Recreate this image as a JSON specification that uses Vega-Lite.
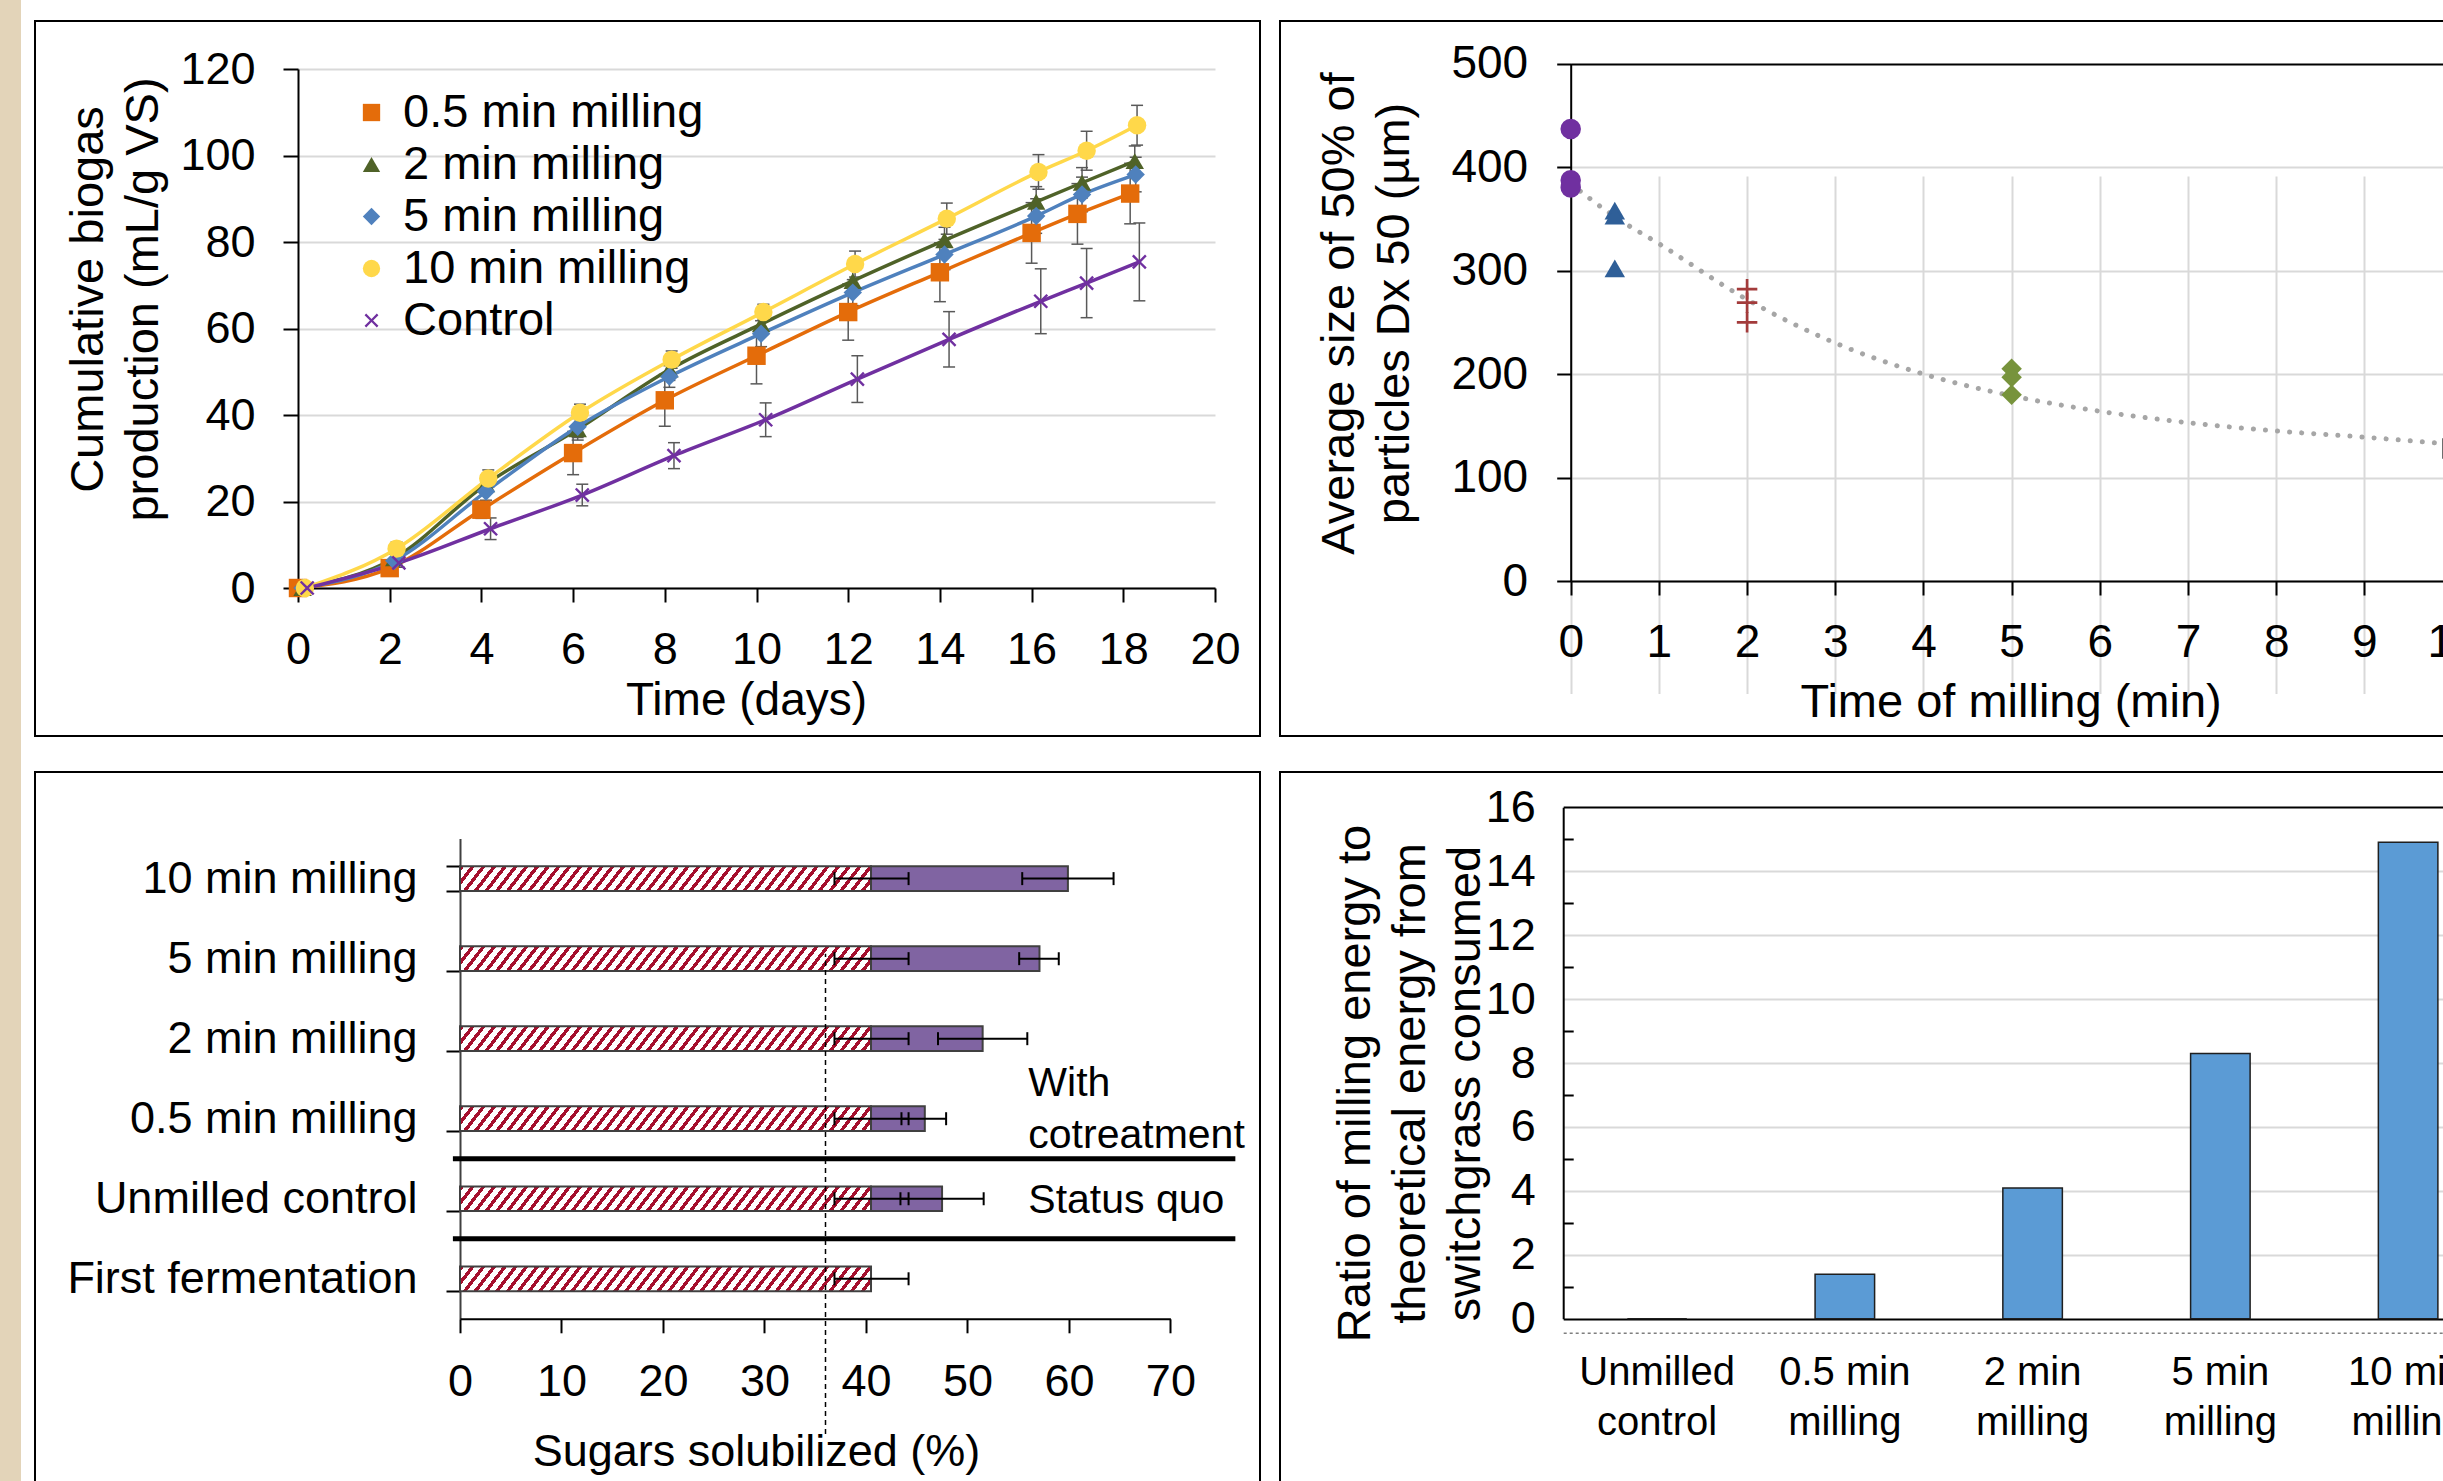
{
  "$schema": "https://vega.github.io/schema/vega-lite/v6.json",
  "padding": 0,
  "background": "white",
  "spacing": 13,
  "center": true,
  "config": {
    "font": "Liberation Sans",
    "view": {"stroke": "black", "strokeWidth": 2},
    "axis": {"labelColor": "black", "titleColor": "black", "titleFontWeight": "normal", "domainColor": "black", "domainWidth": 2, "tickColor": "black", "tickWidth": 2, "gridColor": "#D9D9D9", "gridWidth": 2, "labelLimit": 2000, "titleLimit": 3000, "labelFlush": false, "labelOverlap": false},
    "legend": {"labelLimit": 2000}
  },
  "datasets": {
    "biogas": [
      {"s": "0.5 min milling", "d": 0, "m": 0, "lo": 0, "hi": 0},
      {"s": "0.5 min milling", "d": 2, "m": 4.6, "lo": 3.1, "hi": 6.1},
      {"s": "0.5 min milling", "d": 4, "m": 18.1, "lo": 16.1, "hi": 20.1},
      {"s": "0.5 min milling", "d": 6, "m": 31.2, "lo": 26.2, "hi": 36.2},
      {"s": "0.5 min milling", "d": 8, "m": 43.4, "lo": 37.4, "hi": 49.4},
      {"s": "0.5 min milling", "d": 10, "m": 53.7, "lo": 47.2, "hi": 60.2},
      {"s": "0.5 min milling", "d": 12, "m": 63.8, "lo": 57.3, "hi": 70.3},
      {"s": "0.5 min milling", "d": 14, "m": 73.0, "lo": 66.2, "hi": 79.8},
      {"s": "0.5 min milling", "d": 16, "m": 82.1, "lo": 75.1, "hi": 89.1},
      {"s": "0.5 min milling", "d": 17, "m": 86.5, "lo": 79.5, "hi": 93.5},
      {"s": "0.5 min milling", "d": 18.15, "m": 91.2, "lo": 84.2, "hi": 98.2},
      {"s": "2 min milling", "d": 0.1, "m": 0, "lo": 0, "hi": 0},
      {"s": "2 min milling", "d": 2.1, "m": 6.9, "lo": 5.4, "hi": 8.4},
      {"s": "2 min milling", "d": 4.1, "m": 24.0, "lo": 22.0, "hi": 26.0},
      {"s": "2 min milling", "d": 6.1, "m": 36.7, "lo": 34.2, "hi": 39.2},
      {"s": "2 min milling", "d": 8.1, "m": 50.5, "lo": 48.0, "hi": 53.0},
      {"s": "2 min milling", "d": 10.1, "m": 61.0, "lo": 58.5, "hi": 63.5},
      {"s": "2 min milling", "d": 12.1, "m": 71.0, "lo": 68.0, "hi": 74.0},
      {"s": "2 min milling", "d": 14.1, "m": 80.4, "lo": 77.4, "hi": 83.4},
      {"s": "2 min milling", "d": 16.1, "m": 89.3, "lo": 85.8, "hi": 92.8},
      {"s": "2 min milling", "d": 17.1, "m": 93.7, "lo": 90.2, "hi": 97.2},
      {"s": "2 min milling", "d": 18.25, "m": 98.7, "lo": 95.2, "hi": 102.2},
      {"s": "5 min milling", "d": 0.1, "m": 0, "lo": 0, "hi": 0},
      {"s": "5 min milling", "d": 2.1, "m": 6.3, "lo": 4.8, "hi": 7.8},
      {"s": "5 min milling", "d": 4.1, "m": 22.3, "lo": 20.3, "hi": 24.3},
      {"s": "5 min milling", "d": 6.1, "m": 37.3, "lo": 34.8, "hi": 39.8},
      {"s": "5 min milling", "d": 8.1, "m": 48.9, "lo": 46.4, "hi": 51.4},
      {"s": "5 min milling", "d": 10.1, "m": 58.8, "lo": 55.8, "hi": 61.8},
      {"s": "5 min milling", "d": 12.1, "m": 68.3, "lo": 65.3, "hi": 71.3},
      {"s": "5 min milling", "d": 14.1, "m": 77.1, "lo": 73.6, "hi": 80.6},
      {"s": "5 min milling", "d": 16.1, "m": 86.0, "lo": 82.0, "hi": 90.0},
      {"s": "5 min milling", "d": 17.1, "m": 91.0, "lo": 87.0, "hi": 95.0},
      {"s": "5 min milling", "d": 18.27, "m": 95.6, "lo": 91.6, "hi": 99.6},
      {"s": "10 min milling", "d": 0.15, "m": 0, "lo": 0, "hi": 0},
      {"s": "10 min milling", "d": 2.15, "m": 9.1, "lo": 7.6, "hi": 10.6},
      {"s": "10 min milling", "d": 4.15, "m": 25.3, "lo": 23.3, "hi": 27.3},
      {"s": "10 min milling", "d": 6.15, "m": 40.5, "lo": 38.5, "hi": 42.5},
      {"s": "10 min milling", "d": 8.15, "m": 52.8, "lo": 50.8, "hi": 54.8},
      {"s": "10 min milling", "d": 10.15, "m": 63.8, "lo": 62.0, "hi": 65.6},
      {"s": "10 min milling", "d": 12.15, "m": 74.9, "lo": 71.9, "hi": 77.9},
      {"s": "10 min milling", "d": 14.15, "m": 85.4, "lo": 81.8, "hi": 89.0},
      {"s": "10 min milling", "d": 16.15, "m": 96.2, "lo": 92.2, "hi": 100.2},
      {"s": "10 min milling", "d": 17.2, "m": 101.1, "lo": 96.6, "hi": 105.6},
      {"s": "10 min milling", "d": 18.3, "m": 107.0, "lo": 102.4, "hi": 111.6},
      {"s": "Control", "d": 0.2, "m": 0, "lo": 0, "hi": 0},
      {"s": "Control", "d": 2.2, "m": 5.8, "lo": 4.8, "hi": 6.8},
      {"s": "Control", "d": 4.2, "m": 13.7, "lo": 11.2, "hi": 16.2},
      {"s": "Control", "d": 6.2, "m": 21.5, "lo": 19.0, "hi": 24.0},
      {"s": "Control", "d": 8.2, "m": 30.6, "lo": 27.6, "hi": 33.6},
      {"s": "Control", "d": 10.2, "m": 38.9, "lo": 35.0, "hi": 42.8},
      {"s": "Control", "d": 12.2, "m": 48.3, "lo": 42.9, "hi": 53.7},
      {"s": "Control", "d": 14.2, "m": 57.5, "lo": 51.1, "hi": 63.9},
      {"s": "Control", "d": 16.2, "m": 66.3, "lo": 58.8, "hi": 73.8},
      {"s": "Control", "d": 17.2, "m": 70.5, "lo": 62.5, "hi": 78.5},
      {"s": "Control", "d": 18.35, "m": 75.4, "lo": 66.4, "hi": 84.4}
    ],
    "dx50": [
      {"g": "0 min", "t": 0, "d": 436.8},
      {"g": "0 min", "t": 0, "d": 387.2},
      {"g": "0 min", "t": 0, "d": 380.3},
      {"g": "0.5 min", "t": 0.5, "d": 358},
      {"g": "0.5 min", "t": 0.5, "d": 353},
      {"g": "0.5 min", "t": 0.5, "d": 302},
      {"g": "2 min", "t": 2, "d": 282},
      {"g": "2 min", "t": 2, "d": 269},
      {"g": "2 min", "t": 2, "d": 250},
      {"g": "5 min", "t": 5, "d": 205},
      {"g": "5 min", "t": 5, "d": 197},
      {"g": "5 min", "t": 5, "d": 180},
      {"g": "10 min", "t": 10, "d": 128}
    ],
    "trend": [
      {"t": 0, "v": 384}, {"t": 0.5, "v": 352}, {"t": 1, "v": 326}, {"t": 2, "v": 272},
      {"t": 3, "v": 230}, {"t": 4, "v": 200}, {"t": 5, "v": 179}, {"t": 6, "v": 164},
      {"t": 7, "v": 153}, {"t": 8, "v": 145}, {"t": 9, "v": 139}, {"t": 10, "v": 132}
    ],
    "sugar": [
      {"c": "10 min milling", "f": 40.5, "flo": 36.9, "fhi": 44.2, "tot": 59.9, "tlo": 55.4, "thi": 64.4},
      {"c": "5 min milling", "f": 40.5, "flo": 36.9, "fhi": 44.2, "tot": 57.1, "tlo": 55.1, "thi": 59.0},
      {"c": "2 min milling", "f": 40.5, "flo": 36.9, "fhi": 44.2, "tot": 51.5, "tlo": 47.1, "thi": 55.9},
      {"c": "0.5 min milling", "f": 40.5, "flo": 36.9, "fhi": 44.2, "tot": 45.8, "tlo": 43.5, "thi": 47.9},
      {"c": "Unmilled control", "f": 40.5, "flo": 36.9, "fhi": 44.2, "tot": 47.5, "tlo": 43.4, "thi": 51.6},
      {"c": "First fermentation", "f": 40.5, "flo": 36.9, "fhi": 44.2, "tot": null, "tlo": null, "thi": null}
    ],
    "seps": [
      {"c": "Unmilled control", "a": -0.7, "b": 76.4},
      {"c": "First fermentation", "a": -0.7, "b": 76.4}
    ],
    "notes": [
      {"c": "0.5 min milling", "x": 56, "l": "With\ncotreatment"},
      {"c": "Unmilled control", "x": 56, "l": "Status quo"}
    ],
    "ratio": [
      {"c": "Unmilled control", "r": 0},
      {"c": "0.5 min milling", "r": 1.39},
      {"c": "2 min milling", "r": 4.09},
      {"c": "5 min milling", "r": 8.3},
      {"c": "10 min milling", "r": 14.91}
    ]
  },
  "hconcat": [
    {
      "width": 21, "height": 1522,
      "data": {"values": []},
      "mark": "point",
      "view": {"fill": "#E3D4B9", "stroke": null}
    },
    {
      "spacing": 12,
      "vconcat": [
        {
          "spacing": 18,
          "resolve": {"scale": {"color": "independent", "shape": "independent"}},
          "hconcat": [
            {
              "width": 1225, "height": 715,
              "data": {"name": "biogas"},
              "encoding": {
                "x": {"field": "d", "type": "quantitative",
                  "scale": {"domain": [0, 20], "range": [263, 1180], "nice": false, "zero": false},
                  "axis": {"values": [0, 2, 4, 6, 8, 10, 12, 14, 16, 18, 20], "title": "Time (days)", "offset": -148, "grid": false, "tickSize": 14, "labelPadding": 25, "labelFontSize": 45, "titleFontSize": 46, "titleX": 711, "titleY": 126, "titleAlign": "center", "titleBaseline": "alphabetic"}}
              },
              "layer": [
                {"transform": [{"filter": "datum.m < 0"}],
                  "mark": {"type": "point", "filled": true, "opacity": 1, "size": 300},
                  "encoding": {
                    "y": {"field": "m", "type": "quantitative",
                      "scale": {"domain": [0, 120], "range": [567, 48], "nice": false},
                      "axis": {"values": [0, 20, 40, 60, 80, 100, 120], "title": ["Cumulative biogas", "production (mL/g VS)"], "offset": -263, "grid": true, "tickSize": 15, "labelPadding": 28, "labelFontSize": 45, "titleFontSize": 47, "titleLineHeight": 55, "titleX": -186, "titleY": 278, "titleAngle": -90, "titleAlign": "center", "titleBaseline": "bottom"}},
                    "color": {"field": "s", "type": "nominal",
                      "scale": {"domain": ["0.5 min milling", "2 min milling", "5 min milling", "10 min milling", "Control"], "range": ["#E46C0A", "#4F6228", "#4F81BD", "#FFD84A", "#7030A0"]},
                      "legend": {"title": null, "orient": "none", "legendX": 313, "legendY": 68, "padding": 0, "direction": "vertical", "labelFontSize": 47, "labelColor": "black", "symbolSize": 300, "rowPadding": 4, "labelOffset": 8, "symbolStrokeWidth": 0,
                        "encode": {"symbols": {"shape": {"condition": [
                          {"test": "datum.value === '0.5 min milling'", "value": "M-3.06,-0.17H3.06V0.17H-3.06Z M-1,-1H1V1H-1Z"},
                          {"test": "datum.value === '2 min milling'", "value": "M-3.06,-0.17H3.06V0.17H-3.06Z M0,-1.15L1.15,0.85H-1.15Z"},
                          {"test": "datum.value === '5 min milling'", "value": "M-3.06,-0.17H3.06V0.17H-3.06Z M0,-1.15L1.15,0L0,1.15L-1.15,0Z"},
                          {"test": "datum.value === '10 min milling'", "value": "M-3.06,-0.17H3.06V0.17H-3.06Z M-1.05,0A1.05,1.05 0 1,1 1.05,0A1.05,1.05 0 1,1 -1.05,0Z"}
                        ], "value": "M-3.06,-0.17H3.06V0.17H-3.06Z M0.615,-0.799L0.799,-0.615L0.184,0L0.799,0.615L0.615,0.799L0,0.184L-0.615,0.799L-0.799,0.615L-0.184,0L-0.799,-0.615L-0.615,-0.799L0,-0.184Z"}}}}},
                    "shape": {"field": "s", "type": "nominal",
                      "scale": {"domain": ["0.5 min milling", "2 min milling", "5 min milling", "10 min milling", "Control"], "range": ["square", "triangle-up", "diamond", "circle", "M0.615,-0.799L0.799,-0.615L0.184,0L0.799,0.615L0.615,0.799L0,0.184L-0.615,0.799L-0.799,0.615L-0.184,0L-0.799,-0.615L-0.615,-0.799L0,-0.184Z"]},
                      "legend": null}
                  }},
                {"mark": {"type": "rule", "color": "#595959", "strokeWidth": 1.5},
                  "encoding": {
                    "y": {"field": "lo", "type": "quantitative"},
                    "y2": {"field": "hi"}
                  }},
                {"mark": {"type": "tick", "orient": "horizontal", "color": "#595959", "size": 12, "thickness": 1.5, "opacity": 1},
                  "encoding": {"y": {"field": "lo", "type": "quantitative"}}},
                {"mark": {"type": "tick", "orient": "horizontal", "color": "#595959", "size": 12, "thickness": 1.5, "opacity": 1},
                  "encoding": {"y": {"field": "hi", "type": "quantitative"}}},
                {"mark": {"type": "line", "interpolate": "monotone", "strokeWidth": 3.5},
                  "encoding": {
                    "y": {"field": "m", "type": "quantitative"},
                    "color": {"field": "s", "type": "nominal"}
                  }},
                {"mark": {"type": "point", "filled": true, "opacity": 1, "size": 340},
                  "encoding": {
                    "y": {"field": "m", "type": "quantitative"},
                    "color": {"field": "s", "type": "nominal"},
                    "shape": {"field": "s", "type": "nominal", "legend": null}
                  }}
              ]
            },
            {
              "width": 1200, "height": 715,
              "layer": [
                {"data": {"name": "trend"},
                  "mark": {"type": "line", "interpolate": "monotone", "color": "#A6A6A6", "strokeWidth": 5, "strokeDash": [0.1, 12], "strokeCap": "round"},
                  "encoding": {
                    "x": {"field": "t", "type": "quantitative",
                      "scale": {"domain": [0, 10], "range": [290.7, 1172.6], "nice": false, "zero": false},
                      "axis": {"values": [0, 1, 2, 3, 4, 5, 6, 7, 8, 9, 10], "format": "d", "title": "Time of milling (min)", "offset": -155, "grid": true, "tickSize": 14, "labelPadding": 25, "labelFontSize": 46, "titleFontSize": 47, "titleX": 730.6, "titleY": 135.7, "titleAlign": "center", "titleBaseline": "alphabetic"}},
                    "y": {"field": "v", "type": "quantitative",
                      "scale": {"domain": [0, 500], "range": [560, 42.6], "nice": false},
                      "axis": {"values": [0, 100, 200, 300, 400, 500], "title": ["Average size of 50% of", "particles Dx 50 (µm)"], "offset": -290.7, "grid": true,
                        "gridColor": {"condition": {"test": "datum.value == 500", "value": "black"}, "value": "#D9D9D9"},
                        "tickSize": 14, "labelPadding": 29, "labelFontSize": 46, "titleFontSize": 47, "titleLineHeight": 55, "titleX": -207, "titleY": 292, "titleAngle": -90, "titleAlign": "center", "titleBaseline": "bottom"}}
                  }},
                {"data": {"name": "dx50"},
                  "mark": {"type": "point", "filled": true, "opacity": 1, "size": 420},
                  "encoding": {
                    "x": {"field": "t", "type": "quantitative"},
                    "y": {"field": "d", "type": "quantitative"},
                    "color": {"field": "g", "type": "nominal",
                      "scale": {"domain": ["0 min", "0.5 min", "2 min", "5 min", "10 min"], "range": ["#7030A0", "#2F5F98", "#A33B3B", "#77933C", "#1F1F1F"]},
                      "legend": null},
                    "shape": {"field": "g", "type": "nominal",
                      "scale": {"domain": ["0 min", "0.5 min", "2 min", "5 min", "10 min"], "range": ["circle", "triangle-up", "M-1,-0.13H-0.13V-1H0.13V-0.13H1V0.13H0.13V1H-0.13V0.13H-1Z", "diamond", "square"]},
                      "legend": null}
                  }}
              ]
            }
          ]
        },
        {
          "spacing": 18,
          "hconcat": [
            {
              "width": 1225, "height": 728,
              "layer": [
                {"data": {"name": "sugar"},
                  "mark": {"type": "bar", "stroke": "#404040", "strokeWidth": 2,
                    "fill": {"gradient": "linear", "x1": 0, "y1": 0, "x2": 1.0441, "y2": 0.0483, "stops": [
                      {"offset": 0, "color": "#A50F2D"}, {"offset": 0.01, "color": "#A50F2D"}, {"offset": 0.01, "color": "#ffffff"}, {"offset": 0.025, "color": "#ffffff"},
                      {"offset": 0.025, "color": "#A50F2D"}, {"offset": 0.035, "color": "#A50F2D"}, {"offset": 0.035, "color": "#ffffff"}, {"offset": 0.05, "color": "#ffffff"},
                      {"offset": 0.05, "color": "#A50F2D"}, {"offset": 0.06, "color": "#A50F2D"}, {"offset": 0.06, "color": "#ffffff"}, {"offset": 0.075, "color": "#ffffff"},
                      {"offset": 0.075, "color": "#A50F2D"}, {"offset": 0.085, "color": "#A50F2D"}, {"offset": 0.085, "color": "#ffffff"}, {"offset": 0.1, "color": "#ffffff"},
                      {"offset": 0.1, "color": "#A50F2D"}, {"offset": 0.11, "color": "#A50F2D"}, {"offset": 0.11, "color": "#ffffff"}, {"offset": 0.125, "color": "#ffffff"},
                      {"offset": 0.125, "color": "#A50F2D"}, {"offset": 0.135, "color": "#A50F2D"}, {"offset": 0.135, "color": "#ffffff"}, {"offset": 0.15, "color": "#ffffff"},
                      {"offset": 0.15, "color": "#A50F2D"}, {"offset": 0.16, "color": "#A50F2D"}, {"offset": 0.16, "color": "#ffffff"}, {"offset": 0.175, "color": "#ffffff"},
                      {"offset": 0.175, "color": "#A50F2D"}, {"offset": 0.185, "color": "#A50F2D"}, {"offset": 0.185, "color": "#ffffff"}, {"offset": 0.2, "color": "#ffffff"},
                      {"offset": 0.2, "color": "#A50F2D"}, {"offset": 0.21, "color": "#A50F2D"}, {"offset": 0.21, "color": "#ffffff"}, {"offset": 0.225, "color": "#ffffff"},
                      {"offset": 0.225, "color": "#A50F2D"}, {"offset": 0.235, "color": "#A50F2D"}, {"offset": 0.235, "color": "#ffffff"}, {"offset": 0.25, "color": "#ffffff"},
                      {"offset": 0.25, "color": "#A50F2D"}, {"offset": 0.26, "color": "#A50F2D"}, {"offset": 0.26, "color": "#ffffff"}, {"offset": 0.275, "color": "#ffffff"},
                      {"offset": 0.275, "color": "#A50F2D"}, {"offset": 0.285, "color": "#A50F2D"}, {"offset": 0.285, "color": "#ffffff"}, {"offset": 0.3, "color": "#ffffff"},
                      {"offset": 0.3, "color": "#A50F2D"}, {"offset": 0.31, "color": "#A50F2D"}, {"offset": 0.31, "color": "#ffffff"}, {"offset": 0.325, "color": "#ffffff"},
                      {"offset": 0.325, "color": "#A50F2D"}, {"offset": 0.335, "color": "#A50F2D"}, {"offset": 0.335, "color": "#ffffff"}, {"offset": 0.35, "color": "#ffffff"},
                      {"offset": 0.35, "color": "#A50F2D"}, {"offset": 0.36, "color": "#A50F2D"}, {"offset": 0.36, "color": "#ffffff"}, {"offset": 0.375, "color": "#ffffff"},
                      {"offset": 0.375, "color": "#A50F2D"}, {"offset": 0.385, "color": "#A50F2D"}, {"offset": 0.385, "color": "#ffffff"}, {"offset": 0.4, "color": "#ffffff"},
                      {"offset": 0.4, "color": "#A50F2D"}, {"offset": 0.41, "color": "#A50F2D"}, {"offset": 0.41, "color": "#ffffff"}, {"offset": 0.425, "color": "#ffffff"},
                      {"offset": 0.425, "color": "#A50F2D"}, {"offset": 0.435, "color": "#A50F2D"}, {"offset": 0.435, "color": "#ffffff"}, {"offset": 0.45, "color": "#ffffff"},
                      {"offset": 0.45, "color": "#A50F2D"}, {"offset": 0.46, "color": "#A50F2D"}, {"offset": 0.46, "color": "#ffffff"}, {"offset": 0.475, "color": "#ffffff"},
                      {"offset": 0.475, "color": "#A50F2D"}, {"offset": 0.485, "color": "#A50F2D"}, {"offset": 0.485, "color": "#ffffff"}, {"offset": 0.5, "color": "#ffffff"},
                      {"offset": 0.5, "color": "#A50F2D"}, {"offset": 0.51, "color": "#A50F2D"}, {"offset": 0.51, "color": "#ffffff"}, {"offset": 0.525, "color": "#ffffff"},
                      {"offset": 0.525, "color": "#A50F2D"}, {"offset": 0.535, "color": "#A50F2D"}, {"offset": 0.535, "color": "#ffffff"}, {"offset": 0.55, "color": "#ffffff"},
                      {"offset": 0.55, "color": "#A50F2D"}, {"offset": 0.56, "color": "#A50F2D"}, {"offset": 0.56, "color": "#ffffff"}, {"offset": 0.575, "color": "#ffffff"},
                      {"offset": 0.575, "color": "#A50F2D"}, {"offset": 0.585, "color": "#A50F2D"}, {"offset": 0.585, "color": "#ffffff"}, {"offset": 0.6, "color": "#ffffff"},
                      {"offset": 0.6, "color": "#A50F2D"}, {"offset": 0.61, "color": "#A50F2D"}, {"offset": 0.61, "color": "#ffffff"}, {"offset": 0.625, "color": "#ffffff"},
                      {"offset": 0.625, "color": "#A50F2D"}, {"offset": 0.635, "color": "#A50F2D"}, {"offset": 0.635, "color": "#ffffff"}, {"offset": 0.65, "color": "#ffffff"},
                      {"offset": 0.65, "color": "#A50F2D"}, {"offset": 0.66, "color": "#A50F2D"}, {"offset": 0.66, "color": "#ffffff"}, {"offset": 0.675, "color": "#ffffff"},
                      {"offset": 0.675, "color": "#A50F2D"}, {"offset": 0.685, "color": "#A50F2D"}, {"offset": 0.685, "color": "#ffffff"}, {"offset": 0.7, "color": "#ffffff"},
                      {"offset": 0.7, "color": "#A50F2D"}, {"offset": 0.71, "color": "#A50F2D"}, {"offset": 0.71, "color": "#ffffff"}, {"offset": 0.725, "color": "#ffffff"},
                      {"offset": 0.725, "color": "#A50F2D"}, {"offset": 0.735, "color": "#A50F2D"}, {"offset": 0.735, "color": "#ffffff"}, {"offset": 0.75, "color": "#ffffff"},
                      {"offset": 0.75, "color": "#A50F2D"}, {"offset": 0.76, "color": "#A50F2D"}, {"offset": 0.76, "color": "#ffffff"}, {"offset": 0.775, "color": "#ffffff"},
                      {"offset": 0.775, "color": "#A50F2D"}, {"offset": 0.785, "color": "#A50F2D"}, {"offset": 0.785, "color": "#ffffff"}, {"offset": 0.8, "color": "#ffffff"},
                      {"offset": 0.8, "color": "#A50F2D"}, {"offset": 0.81, "color": "#A50F2D"}, {"offset": 0.81, "color": "#ffffff"}, {"offset": 0.825, "color": "#ffffff"},
                      {"offset": 0.825, "color": "#A50F2D"}, {"offset": 0.835, "color": "#A50F2D"}, {"offset": 0.835, "color": "#ffffff"}, {"offset": 0.85, "color": "#ffffff"},
                      {"offset": 0.85, "color": "#A50F2D"}, {"offset": 0.86, "color": "#A50F2D"}, {"offset": 0.86, "color": "#ffffff"}, {"offset": 0.875, "color": "#ffffff"},
                      {"offset": 0.875, "color": "#A50F2D"}, {"offset": 0.885, "color": "#A50F2D"}, {"offset": 0.885, "color": "#ffffff"}, {"offset": 0.9, "color": "#ffffff"},
                      {"offset": 0.9, "color": "#A50F2D"}, {"offset": 0.91, "color": "#A50F2D"}, {"offset": 0.91, "color": "#ffffff"}, {"offset": 0.925, "color": "#ffffff"},
                      {"offset": 0.925, "color": "#A50F2D"}, {"offset": 0.935, "color": "#A50F2D"}, {"offset": 0.935, "color": "#ffffff"}, {"offset": 0.95, "color": "#ffffff"},
                      {"offset": 0.95, "color": "#A50F2D"}, {"offset": 0.96, "color": "#A50F2D"}, {"offset": 0.96, "color": "#ffffff"}, {"offset": 0.975, "color": "#ffffff"},
                      {"offset": 0.975, "color": "#A50F2D"}, {"offset": 0.985, "color": "#A50F2D"}, {"offset": 0.985, "color": "#ffffff"}, {"offset": 1, "color": "#ffffff"}
                    ]}},
                  "encoding": {
                    "y": {"field": "c", "type": "nominal",
                      "scale": {"domain": ["10 min milling", "5 min milling", "2 min milling", "0.5 min milling", "Unmilled control", "First fermentation"], "range": [66.6, 546.8], "paddingInner": 0.6914, "paddingOuter": 0.3457},
                      "axis": {"title": null, "offset": -425, "tickBand": "extent", "tickSize": 14, "labelPadding": 29, "labelFontSize": 45, "grid": false, "domainColor": "#404040"}},
                    "x": {"field": "f", "type": "quantitative",
                      "scale": {"domain": [0, 70], "range": [425, 1135.4], "nice": false},
                      "axis": {"values": [0, 10, 20, 30, 36, 40, 50, 60, 70], "title": "Sugars solubilized (%)", "offset": -181.2, "zindex": 1,
                        "labelExpr": "datum.value == 36 ? '' : datum.label",
                        "tickOpacity": {"condition": {"test": "datum.value == 36", "value": 0}, "value": 1},
                        "grid": true, "gridColor": "black", "gridDash": [5, 4], "gridWidth": 1.5,
                        "gridOpacity": {"condition": {"test": "datum.value == 36", "value": 1}, "value": 0},
                        "tickSize": 14, "labelPadding": 27, "labelFontSize": 45, "titleFontSize": 45, "titleX": 721, "titleY": 146.8, "titleAlign": "center", "titleBaseline": "alphabetic"}}
                  }},
                {"data": {"name": "sugar"},
                  "transform": [{"filter": "datum.tot != null"}],
                  "mark": {"type": "bar", "fill": "#8064A2", "stroke": "#404040", "strokeWidth": 2},
                  "encoding": {
                    "y": {"field": "c", "type": "nominal"},
                    "x": {"field": "f", "type": "quantitative"},
                    "x2": {"field": "tot"}
                  }},
                {"data": {"name": "sugar"},
                  "mark": {"type": "rule", "color": "black", "strokeWidth": 2},
                  "encoding": {"y": {"field": "c", "type": "nominal"}, "x": {"field": "flo", "type": "quantitative"}, "x2": {"field": "fhi"}}},
                {"data": {"name": "sugar"},
                  "mark": {"type": "tick", "color": "black", "size": 13, "thickness": 2, "opacity": 1},
                  "encoding": {"y": {"field": "c", "type": "nominal"}, "x": {"field": "flo", "type": "quantitative"}}},
                {"data": {"name": "sugar"},
                  "mark": {"type": "tick", "color": "black", "size": 13, "thickness": 2, "opacity": 1},
                  "encoding": {"y": {"field": "c", "type": "nominal"}, "x": {"field": "fhi", "type": "quantitative"}}},
                {"data": {"name": "sugar"},
                  "transform": [{"filter": "datum.tot != null"}],
                  "mark": {"type": "rule", "color": "black", "strokeWidth": 2},
                  "encoding": {"y": {"field": "c", "type": "nominal"}, "x": {"field": "tlo", "type": "quantitative"}, "x2": {"field": "thi"}}},
                {"data": {"name": "sugar"},
                  "transform": [{"filter": "datum.tot != null"}],
                  "mark": {"type": "tick", "color": "black", "size": 13, "thickness": 2, "opacity": 1},
                  "encoding": {"y": {"field": "c", "type": "nominal"}, "x": {"field": "tlo", "type": "quantitative"}}},
                {"data": {"name": "sugar"},
                  "transform": [{"filter": "datum.tot != null"}],
                  "mark": {"type": "tick", "color": "black", "size": 13, "thickness": 2, "opacity": 1},
                  "encoding": {"y": {"field": "c", "type": "nominal"}, "x": {"field": "thi", "type": "quantitative"}}},
                {"data": {"name": "seps"},
                  "mark": {"type": "rule", "color": "black", "strokeWidth": 5},
                  "encoding": {"y": {"field": "c", "type": "nominal", "bandPosition": -1.12}, "x": {"field": "a", "type": "quantitative"}, "x2": {"field": "b"}}},
                {"data": {"name": "notes"},
                  "transform": [{"filter": "datum.c == '0.5 min milling'"}],
                  "mark": {"type": "text", "align": "left", "baseline": "middle", "fontSize": 41, "lineHeight": 52, "lineBreak": "\n", "dy": -35, "color": "black"},
                  "encoding": {"y": {"field": "c", "type": "nominal"}, "x": {"field": "x", "type": "quantitative"}, "text": {"field": "l"}}},
                {"data": {"name": "notes"},
                  "transform": [{"filter": "datum.c == 'Unmilled control'"}],
                  "mark": {"type": "text", "align": "left", "baseline": "middle", "fontSize": 41, "dy": 2, "color": "black"},
                  "encoding": {"y": {"field": "c", "type": "nominal"}, "x": {"field": "x", "type": "quantitative"}, "text": {"field": "l"}}}
              ]
            },
            {
              "width": 1240, "height": 728,
              "data": {"name": "ratio"},
              "mark": {"type": "bar", "fill": "#5B9BD5", "stroke": "#1F1F1F", "strokeWidth": 1.5},
              "encoding": {
                "x": {"field": "c", "type": "nominal",
                  "scale": {"domain": ["Unmilled control", "0.5 min milling", "2 min milling", "5 min milling", "10 min milling"], "range": [283.2, 1222], "paddingInner": 0.683, "paddingOuter": 0.3415},
                  "axis": {"title": null, "offset": -167.2, "ticks": false, "domainDash": [3, 3], "domainColor": "#7F7F7F", "domainWidth": 1.5, "labelAngle": 0,
                    "labelExpr": "datum.label == 'Unmilled control' ? ['Unmilled', 'control'] : [replace(datum.label, ' milling', ''), 'milling']",
                    "labelFontSize": 40, "labelLineHeight": 50, "labelPadding": 20}},
                "y": {"field": "r", "type": "quantitative",
                  "scale": {"domain": [0, 16], "range": [546.8, 35.3], "nice": false},
                  "axis": {"values": [0, 1, 2, 3, 4, 5, 6, 7, 8, 9, 10, 11, 12, 13, 14, 15, 16],
                    "labelExpr": "datum.value % 2 == 1 ? '' : datum.label",
                    "tickSize": -10,
                    "tickOpacity": {"condition": {"test": "datum.value % 2 == 1", "value": 1}, "value": 0},
                    "grid": true,
                    "gridOpacity": {"condition": {"test": "datum.value % 2 == 1", "value": 0}, "value": 1},
                    "gridColor": {"condition": {"test": "datum.value == 0 || datum.value == 16", "value": "black"}, "value": "#D9D9D9"},
                    "offset": -283.2, "labelPadding": 38, "labelFontSize": 45,
                    "title": ["Ratio of milling energy to", "theoretical energy from", "switchgrass consumed"],
                    "titleFontSize": 47, "titleLineHeight": 55, "titleX": -184, "titleY": 311, "titleAngle": -90, "titleAlign": "center", "titleBaseline": "bottom"}}
              }
            }
          ]
        }
      ]
    }
  ]
}
